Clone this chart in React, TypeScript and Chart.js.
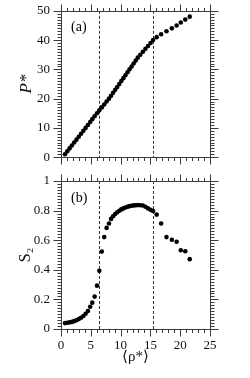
import React, { useEffect, useRef } from "react";
import { Chart, registerables } from "chart.js";

Chart.register(...registerables);

// ---- data (one state point per pressure step) ----
const pressure = [
  1, 2, 3, 4, 5, 6, 7, 8, 9, 10, 11, 12, 13, 14, 15, 16, 17, 18, 19, 20, 21, 22,
  23, 24, 25, 26, 27, 28, 29, 30, 31, 32, 33, 34, 35, 36, 37, 38, 39, 40, 41,
  42, 43, 44, 45, 46, 47, 48,
];
const rho = [
  0.67, 1.05, 1.44, 1.82, 2.21, 2.59, 2.98, 3.36, 3.75, 4.13, 4.52, 4.9, 5.25,
  5.64, 6.04, 6.43, 6.85, 7.25, 7.65, 8.05, 8.4, 8.74, 9.09, 9.43, 9.78, 10.12,
  10.47, 10.81, 11.16, 11.5, 11.85, 12.19, 12.54, 12.88, 13.31, 13.74, 14.17,
  14.6, 15.03, 15.45, 16.05, 16.8, 17.7, 18.6, 19.4, 20.1, 20.85, 21.6,
];
const orderS2 = [
  0.04, 0.042, 0.045, 0.048, 0.053, 0.059, 0.067, 0.076, 0.088, 0.103, 0.122,
  0.15, 0.178, 0.219, 0.293, 0.393, 0.523, 0.621, 0.683, 0.713, 0.744, 0.762,
  0.777, 0.789, 0.799, 0.808, 0.815, 0.821, 0.826, 0.83, 0.833, 0.835, 0.836,
  0.837, 0.836, 0.834, 0.826, 0.815, 0.805, 0.797, 0.773, 0.713, 0.621, 0.603,
  0.59, 0.532, 0.525, 0.472,
];
const transitionRho = [6.4, 15.5];
const xLimits = [0, 25];
const pLimits = [0, 50];
const sLimits = [0, 1];

const SERIF = "'Liberation Serif', 'Times New Roman', Times, serif";
const AXIS = "#3c3c3c";

const decorPlugin = {
  id: "decor",
  beforeDatasetsDraw(chart: any, _a: any, opts: any) {
    const { ctx, chartArea: a, scales } = chart;
    const x = scales.x;
    ctx.save();
    ctx.strokeStyle = "#333";
    ctx.lineWidth = 1;
    ctx.setLineDash([3, 2]);
    for (const v of opts.dashed || []) {
      const px = Math.round(x.getPixelForValue(v)) + 0.5;
      ctx.beginPath();
      ctx.moveTo(px, a.top);
      ctx.lineTo(px, a.bottom);
      ctx.stroke();
    }
    ctx.restore();
  },
  afterDraw(chart: any, _a: any, opts: any) {
    const { ctx, chartArea: a, scales } = chart;
    const x = scales.x;
    const y = scales.y;
    const L = Math.round(a.left) + 0.5;
    const R = Math.round(a.right) + 0.5;
    const T = Math.round(a.top) + 0.5;
    const B = Math.round(a.bottom) + 0.5;
    ctx.save();
    ctx.strokeStyle = AXIS;
    ctx.lineWidth = 1;
    ctx.strokeRect(L, T, R - L, B - T);
    ctx.beginPath();
    const isMajor = (v: number, step: number) =>
      Math.abs(v / step - Math.round(v / step)) < 1e-6;
    const nx = Math.round((x.max - x.min) / opts.xMinor);
    for (let i = 0; i <= nx; i++) {
      const v = x.min + i * opts.xMinor;
      const len = isMajor(v, opts.xMajor) ? 7 : 3.5;
      const px = Math.round(x.getPixelForValue(v)) + 0.5;
      ctx.moveTo(px, B);
      ctx.lineTo(px, B + len);
      ctx.moveTo(px, T);
      ctx.lineTo(px, T - len);
    }
    const ny = Math.round((y.max - y.min) / opts.yMinor);
    for (let i = 0; i <= ny; i++) {
      const v = y.min + i * opts.yMinor;
      const len = isMajor(v, opts.yMajor) ? 8 : 4;
      const py = Math.round(y.getPixelForValue(v)) + 0.5;
      ctx.moveTo(L, py);
      ctx.lineTo(L - len, py);
      ctx.moveTo(R, py);
      ctx.lineTo(R + len, py);
    }
    ctx.stroke();
    ctx.fillStyle = "#000";
    ctx.font = `14px ${SERIF}`;
    ctx.textAlign = "left";
    ctx.textBaseline = "middle";
    ctx.fillText(opts.label, a.left + 10, a.top + 17);
    ctx.restore();
  },
};

type PanelProps = {
  values: number[];
  yLimits: number[];
  yStep: number;
  yMinor: number;
  yTitle: string;
  yTitleItalic: boolean;
  yTitleSize: number;
  label: string;
  showX: boolean;
  height: number;
  top: number;
  padTop: number;
  padBottom: number;
};

function Panel(p: PanelProps) {
  const ref = useRef<HTMLCanvasElement>(null);
  useEffect(() => {
    if (!ref.current) return;
    const chart = new Chart(ref.current, {
      type: "scatter",
      data: {
        datasets: [
          {
            data: rho.map((r, i) => ({ x: r, y: p.values[i] })),
            backgroundColor: "#000",
            borderWidth: 0,
            pointRadius: 2.3,
          },
        ],
      },
      plugins: [decorPlugin],
      options: {
        animation: false,
        responsive: false,
        devicePixelRatio: 1,
        layout: { padding: { top: p.padTop, right: 40, bottom: p.padBottom, left: 0 } },
        plugins: {
          legend: { display: false },
          tooltip: { enabled: false },
          decor: {
            dashed: transitionRho,
            xMinor: 1,
            xMajor: 5,
            yMinor: p.yMinor,
            yMajor: p.yStep,
            label: p.label,
          },
        } as any,
        scales: {
          x: {
            type: "linear",
            min: xLimits[0],
            max: xLimits[1],
            display: p.showX,
            grid: { display: false, drawTicks: true, tickLength: 7 },
            border: { display: false },
            ticks: {
              stepSize: 5,
              padding: 2,
              color: "#111",
              font: { family: SERIF, size: 13 },
            },
            title: {
              display: true,
              text: "⟨ρ*⟩",
              color: "#111",
              font: { family: SERIF, size: 15 },
              padding: { top: 0, bottom: 12 },
            },
            afterFit: (s: any) => {
              s.height = p.showX ? 49 : 0;
            },
          },
          y: {
            type: "linear",
            min: p.yLimits[0],
            max: p.yLimits[1],
            grid: { display: false, drawTicks: true, tickLength: 8 },
            border: { display: false },
            ticks: {
              stepSize: p.yStep,
              padding: 3,
              color: "#111",
              font: { family: SERIF, size: 13 },
              callback: (v: number) => String(Number(Number(v).toFixed(2))),
            },
            title: {
              display: true,
              text: p.yTitle,
              color: "#111",
              font: {
                family: SERIF,
                size: p.yTitleSize,
                style: p.yTitleItalic ? "italic" : "normal",
              },
              padding: { top: 16, bottom: 0 },
            },
            afterFit: (s: any) => {
              s.width = 61;
            },
          },
        },
      } as any,
    });
    return () => chart.destroy();
  }, []);
  return (
    <canvas
      ref={ref}
      width={250}
      height={p.height}
      style={{ position: "absolute", left: 0, top: p.top, width: 250, height: p.height }}
    />
  );
}

export default function App() {
  return (
    <div style={{ position: "fixed", left: 0, top: 0, width: 250, height: 378, background: "#fff" }}>
      <Panel
        values={pressure}
        yLimits={pLimits}
        yStep={10}
        yMinor={1}
        yTitle="P*"
        yTitleItalic={true}
        yTitleSize={17}
        label="(a)"
        showX={false}
        height={168}
        top={0}
        padTop={10}
        padBottom={10}
      />
      <Panel
        values={orderS2}
        yLimits={sLimits}
        yStep={0.2}
        yMinor={0.02}
        yTitle="S₂"
        yTitleItalic={false}
        yTitleSize={16}
        label="(b)"
        showX={true}
        height={210}
        top={168}
        padTop={13}
        padBottom={0}
      />
    </div>
  );
}
